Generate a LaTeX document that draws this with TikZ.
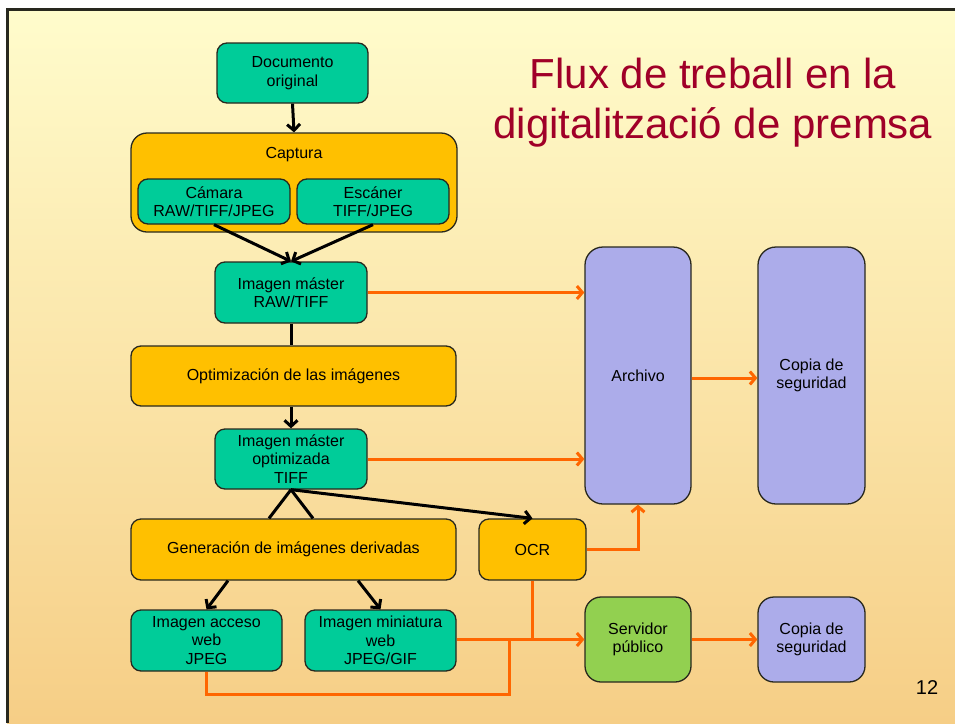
\documentclass[tikz,border=0pt]{standalone}
\usepackage{fontspec}
\setmainfont{Liberation Sans}
\usetikzlibrary{arrows.meta,calc}
\definecolor{teal1}{RGB}{0,204,153}
\definecolor{amber}{RGB}{255,192,0}
\definecolor{lav}{RGB}{172,172,234}
\definecolor{lgreen}{RGB}{146,208,80}
\definecolor{orng}{RGB}{255,102,0}
\definecolor{titlered}{RGB}{160,0,40}
\definecolor{bgtop}{RGB}{255,252,204}
\definecolor{bgbot}{RGB}{246,206,134}
\definecolor{edge}{RGB}{40,40,30}
\tikzset{
  box/.style={draw=edge, line width=1.3pt, rounded corners=10pt, align=center, inner sep=0pt,
    font=\fontsize{16}{18.4}\selectfont, text=black},
  tealbox/.style={box, fill=teal1},
  ambbox/.style={box, fill=amber},
  lavbox/.style={box, fill=lav, rounded corners=18pt},
  grnbox/.style={box, fill=lgreen, rounded corners=16pt},
  blk/.style={draw=black, line width=3pt, -{Straight Barb[length=6pt,width=13pt]}},
  blkline/.style={draw=black, line width=3pt},
  org/.style={draw=orng, line width=3pt, -{Straight Barb[length=5.5pt,width=13pt]}},
  orgline/.style={draw=orng, line width=3pt},
}
\begin{document}
\begin{tikzpicture}[x=1pt,y=-1pt]
\useasboundingbox (0,0) rectangle (955,723);
\shade[top color=bgtop, bottom color=bgbot] (7,9) rectangle (955,723);
\draw[line width=3pt, edge] (7,723) -- (7,9) -- (955,9);

% title
\node[anchor=base, text=titlered, font=\fontsize{42}{50}\selectfont] (title1) at (713,88) {Flux de treball en la};
\node[anchor=base, text=titlered, font=\fontsize{42}{50}\selectfont] (title2) at (713,138) {digitalització de premsa};
\node[anchor=base, font=\fontsize{20}{24}\selectfont] (pnum) at (927,694) {12};

% left column
\node[tealbox, minimum width=151pt, minimum height=60pt] (doc) at (292.5,73) {Documento\\original};
\node[ambbox, rounded corners=16pt, minimum width=326pt, minimum height=99pt] (cap) at (294,182.5) {};
\node[font=\fontsize{16}{18.4}\selectfont, inner sep=0pt] (caplbl) at (294,155) {Captura};
\node[tealbox, minimum width=152pt, minimum height=45pt] (cam) at (214,201.5) {Cámara\\RAW/TIFF/JPEG};
\node[tealbox, minimum width=152pt, minimum height=45pt] (esc) at (373,201.5) {Escáner\\TIFF/JPEG};
\node[tealbox, minimum width=152pt, minimum height=61pt] (master) at (291,292.5) {Imagen máster\\RAW/TIFF};
\node[ambbox, minimum width=325pt, minimum height=60pt] (opt) at (293.5,376) {Optimización de las imágenes};
\node[tealbox, minimum width=152pt, minimum height=60pt] (optm) at (291,459) {Imagen máster\\optimizada\\TIFF};
\node[ambbox, minimum width=325pt, minimum height=61pt] (gen) at (293.5,549.5) {Generación de imágenes derivadas};
\node[ambbox, minimum width=107pt, minimum height=61pt] (ocr) at (532.5,549.5) {OCR};
\node[tealbox, minimum width=151pt, minimum height=61pt] (acc) at (206.5,640.5) {Imagen acceso\\web\\JPEG};
\node[tealbox, minimum width=151pt, minimum height=61pt] (mini) at (380.5,640.5) {Imagen miniatura\\web\\JPEG/GIF};

% right side
\node[lavbox, minimum width=106pt, minimum height=257pt] (arch) at (638,375.5) {Archivo};
\node[lavbox, minimum width=107pt, minimum height=257pt] (cop1) at (811.5,375.5) {Copia de\\seguridad};
\node[grnbox, minimum width=106pt, minimum height=85pt] (serv) at (638,639.5) {Servidor\\público};
\node[lavbox, rounded corners=16pt, minimum width=107pt, minimum height=85pt] (cop2) at (811.5,639.5) {Copia de\\seguridad};

\coordinate (j1) at (509,639.5);
\coordinate (j2) at (532.5,639.5);

% black connectors
\draw[blk] (doc.south) -- (cap.north);
\draw[blk] (cam.south) -- (master.north);
\draw[blk] (esc.south) -- (master.north);
\draw[blkline] (master.south) -- (master.south |- opt.north);
\draw[blk] (opt.south -| optm.south) -- (optm.north);
\draw[blkline] (optm.south) -- ($(gen.north)+(-24.5,0)$);
\draw[blkline] (optm.south) -- ($(gen.north)+(19.5,0)$);
\draw[blk] (optm.south) -- (ocr.north);
\draw[blk] ($(gen.south)+(-65.5,0)$) -- (acc.north);
\draw[blk] ($(gen.south)+(64.5,0)$) -- (mini.north);

% orange connectors
\draw[org] (master.east) -- (master.east -| arch.west);
\draw[org] (optm.east) -- (optm.east -| arch.west);
\draw[org] (ocr.east) -| (arch.south);
\draw[org] (arch.east |- 0,378) -- (cop1.west |- 0,378);
\draw[org] (mini.east |- j1) -- (serv.west);
\draw[orgline] (acc.south) |- (509,694) -- (j1);
\draw[orgline] (ocr.south) -- (j2);
\draw[org] (serv.east) -- (cop2.west);
\end{tikzpicture}
\end{document}
